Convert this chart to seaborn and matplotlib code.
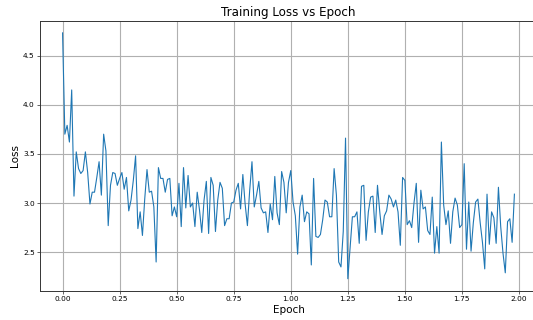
"""
Training loss curve plotted against epoch.

Usage:
    python plot.py
"""

import numpy as np
import pandas as pd
import matplotlib
matplotlib.use("Agg")
import matplotlib.pyplot as plt
import seaborn as sns

STEPS_PER_EPOCH = 100

loss = [
    4.73, 3.70, 3.79, 3.62, 4.15, 3.07, 3.52, 3.35, 3.30, 3.33,
    3.52, 3.31, 2.99, 3.11, 3.11, 3.26, 3.42, 3.08, 3.70, 3.53,
    2.77, 3.18, 3.31, 3.30, 3.18, 3.25, 3.31, 3.14, 3.26, 2.92,
    3.03, 3.23, 3.48, 2.74, 2.91, 2.67, 3.04, 3.34, 3.11, 3.12,
    2.96, 2.40, 3.36, 3.25, 3.25, 3.11, 3.24, 3.25, 2.87, 2.96,
    2.86, 3.20, 2.76, 3.36, 2.95, 3.28, 2.96, 3.00, 2.76, 3.11,
    2.93, 2.70, 3.03, 3.22, 2.69, 3.26, 3.18, 2.71, 3.03, 3.21,
    3.15, 2.77, 2.84, 2.84, 3.00, 3.01, 3.13, 3.20, 2.94, 3.29,
    2.99, 2.77, 3.13, 3.42, 2.96, 3.08, 3.22, 2.95, 2.90, 2.91,
    2.70, 2.99, 2.83, 3.27, 2.90, 2.78, 3.32, 3.21, 2.90, 3.21,
    3.33, 3.01, 2.87, 2.48, 2.96, 3.08, 2.81, 2.91, 2.89, 2.37,
    3.25, 2.66, 2.65, 2.68, 2.83, 3.03, 3.01, 2.86, 2.86, 3.35,
    3.08, 2.40, 2.35, 2.71, 3.66, 2.23, 2.55, 2.86, 2.86, 2.91,
    2.59, 3.17, 3.18, 2.62, 2.91, 3.06, 3.07, 2.70, 3.18, 2.91,
    2.68, 2.87, 2.92, 3.08, 3.04, 2.96, 3.03, 2.91, 2.57, 3.26,
    3.23, 2.78, 2.82, 2.75, 3.00, 3.20, 2.60, 3.13, 2.94, 2.96,
    2.72, 2.68, 3.06, 2.49, 2.76, 2.49, 3.62, 2.98, 2.78, 2.92,
    2.59, 2.91, 3.05, 2.98, 2.75, 2.78, 3.40, 2.53, 3.01, 2.51,
    2.80, 3.01, 3.04, 2.80, 2.60, 2.33, 3.09, 2.58, 2.91, 2.85,
    2.59, 3.16, 2.76, 2.49, 2.29, 2.81, 2.84, 2.60, 3.09,
]


def plot_training_loss(save_path="out.png"):
    """Plot the per-step training loss with epoch on the x axis."""
    df = pd.DataFrame({"step": np.arange(len(loss)), "loss": loss})
    df["epoch"] = df["step"] / STEPS_PER_EPOCH

    dpi = 53.3
    fig = plt.figure(figsize=(533 / dpi, 320 / dpi), dpi=dpi)
    # right edge of the axes runs slightly past the canvas, as in the source
    ax = fig.add_axes([0.075, 0.0906, 0.9325, 0.845])

    sns.lineplot(data=df, x="epoch", y="loss", ax=ax,
                 color="#1f77b4", linewidth=1.5)

    ax.set_title("Training Loss vs Epoch", fontsize=16)
    ax.set_xlabel("Epoch", fontsize=14)
    ax.set_ylabel("Loss", fontsize=14)
    ax.grid(True, color="#b0b0b0", linewidth=1.5)
    for spine in ax.spines.values():
        spine.set_linewidth(1.3)
        spine.set_color("#333333")

    plt.savefig(save_path, dpi=dpi)
    plt.close()
    print(f"Loss curve saved to: {save_path}")


if __name__ == "__main__":
    plot_training_loss()
